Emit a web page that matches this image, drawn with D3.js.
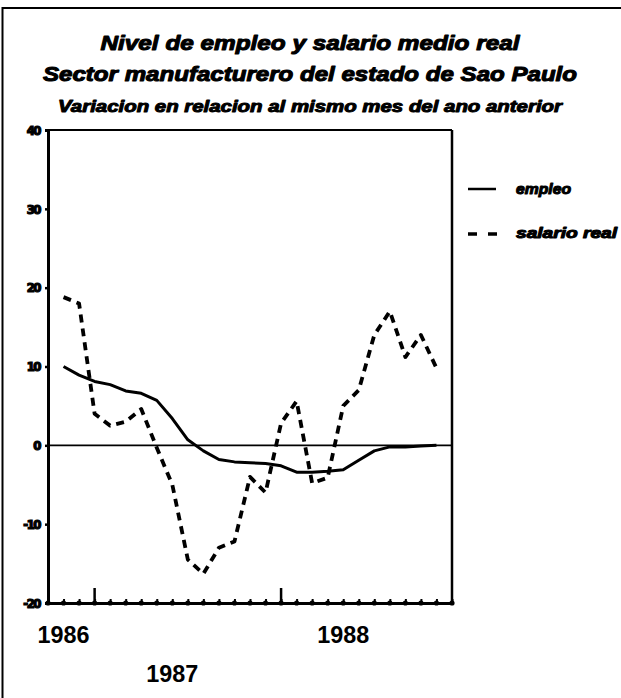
<!DOCTYPE html>
<html>
<head>
<meta charset="utf-8">
<script src="https://cdn.jsdelivr.net/npm/d3@7/dist/d3.min.js"></script>
<style>
  html, body { margin: 0; padding: 0; background: #fff; }
  svg { display: block; }
</style>
</head>
<body>
<svg id="chart" width="621" height="698"></svg>
<script>
// ---- data ----
const months = [1,2,3,4,5,6,7,8,9,10,11,12,13,14,15,16,17,18,19,20,21,22,23,24,25];
const empleo = [10.0, 8.9, 8.1, 7.7, 6.9, 6.6, 5.7, 3.4, 0.7, -0.7, -1.8, -2.1, -2.2, -2.3, -2.6, -3.4, -3.4, -3.3, -3.1, -1.9, -0.7, -0.2, -0.2, -0.1, 0.0];
const salario = [18.8, 18.0, 4.0, 2.5, 3.0, 4.6, -0.3, -5.0, -14.5, -16.3, -13.0, -12.2, -4.0, -6.0, 2.8, 5.6, -4.8, -4.1, 5.0, 7.0, 14.0, 17.0, 11.2, 14.0, 9.8];
const yTicks = [-20, -10, 0, 10, 20, 30, 40];
const xLabels = ["1986", "1987", "1988"];
const xLabelMonths = [1, 8, 19];
const majorTickMonths = [3, 15];
const titleLines = [
  "Nivel de empleo y salario medio real",
  "Sector manufacturero del estado de Sao Paulo",
  "Variacion en relacion al mismo mes del ano anterior"
];
const seriesNames = ["empleo", "salario real"];

// ---- layout ----
const svg = d3.select("#chart");
const L = 48, R = 452, T = 130, B = 603;
const x = d3.scaleLinear().domain([0, 26]).range([L, R]);
const y = d3.scaleLinear().domain([-20, 40]).range([B, T]);

// outer frame (top and left only)
svg.append("line").attr("x1", 2).attr("x2", 621).attr("y1", 8).attr("y2", 8)
  .attr("stroke", "#000").attr("stroke-width", 2);
svg.append("line").attr("x1", 2.5).attr("x2", 2.5).attr("y1", 7).attr("y2", 698)
  .attr("stroke", "#000").attr("stroke-width", 2);

// titles
const titleFont = "'Liberation Sans', Arial, sans-serif";
const tSpec = [
  {y: 50, size: 21, w: 419, sw: 1.1},
  {y: 81, size: 21, w: 534, sw: 1.1},
  {y: 112, size: 16, w: 504, sw: 1.0}
];
titleLines.forEach((t, i) => {
  svg.append("text")
    .attr("x", 310).attr("y", tSpec[i].y)
    .attr("text-anchor", "middle")
    .attr("font-family", titleFont)
    .attr("font-weight", "bold")
    .attr("font-style", "italic")
    .attr("font-size", tSpec[i].size)
    .attr("textLength", tSpec[i].w)
    .attr("lengthAdjust", "spacingAndGlyphs")
    .attr("stroke", "#000").attr("stroke-width", tSpec[i].sw)
    .attr("stroke-linejoin", "round")
    .text(t);
});

// plot border: top and right
svg.append("line").attr("x1", L).attr("x2", R).attr("y1", T).attr("y2", T)
  .attr("stroke", "#000").attr("stroke-width", 2);
svg.append("line").attr("x1", R).attr("x2", R).attr("y1", T).attr("y2", B)
  .attr("stroke", "#000").attr("stroke-width", 2.5);

// zero line
svg.append("line").attr("x1", L).attr("x2", R).attr("y1", y(0)).attr("y2", y(0))
  .attr("stroke", "#000").attr("stroke-width", 1.6);

// y axis
const yAxis = d3.axisLeft(y).tickValues(yTicks).tickSize(3).tickPadding(5)
  .tickFormat(d => String(d));
const gy = svg.append("g").attr("transform", `translate(${L},0)`).call(yAxis);
gy.select(".domain").attr("stroke", "#000").attr("stroke-width", 3);
gy.selectAll(".tick line").attr("stroke", "#000").attr("stroke-width", 2.5);
gy.selectAll(".tick text")
  .attr("font-family", "'DejaVu Sans Condensed', 'DejaVu Sans', sans-serif")
  .attr("font-weight", "bold").attr("font-size", 13).attr("fill", "#000")
  .attr("stroke", "#000").attr("stroke-width", 1.2)
  .attr("letter-spacing", -1.5);

// x axis (monthly ticks)
const allMonths = d3.range(0, 27);
const xAxis = d3.axisBottom(x).tickValues(allMonths).tickSizeInner(-4).tickSizeOuter(0)
  .tickFormat("");
const gx = svg.append("g").attr("transform", `translate(0,${B})`).call(xAxis);
gx.select(".domain").attr("stroke", "#000").attr("stroke-width", 3);
gx.selectAll(".tick line").attr("stroke", "#000").attr("stroke-width", 2);
gx.selectAll(".dot").data(allMonths).enter().append("circle")
  .attr("cx", d => x(d)).attr("cy", 0).attr("r", 2.6).attr("fill", "#000");
gx.selectAll(".major").data(majorTickMonths).enter().append("line")
  .attr("x1", d => x(d)).attr("x2", d => x(d)).attr("y1", 0).attr("y2", -15)
  .attr("stroke", "#000").attr("stroke-width", 2.5);

// x labels (staggered)
const xlabY = [643, 682, 643];
svg.selectAll(".xlab").data(xLabels).enter().append("text")
  .attr("x", (d, i) => x(xLabelMonths[i])).attr("y", (d, i) => xlabY[i])
  .attr("text-anchor", "middle")
  .attr("font-family", "'Liberation Sans', Arial, sans-serif")
  .attr("font-weight", "bold").attr("font-size", 24)
  .attr("fill", "#000")
  .attr("textLength", 52).attr("lengthAdjust", "spacingAndGlyphs")
  .text(d => d);

// series
const line = d3.line().x((d, i) => x(months[i])).y(d => y(d)).curve(d3.curveLinear);
svg.append("path").datum(empleo).attr("d", line)
  .attr("fill", "none").attr("stroke", "#000").attr("stroke-width", 3)
  .attr("stroke-linejoin", "round");
svg.append("path").datum(salario).attr("d", line)
  .attr("fill", "none").attr("stroke", "#000").attr("stroke-width", 3.8)
  .attr("stroke-dasharray", "8,6").attr("stroke-linejoin", "round");

// legend
svg.append("line").attr("x1", 468).attr("x2", 496).attr("y1", 189).attr("y2", 189)
  .attr("stroke", "#000").attr("stroke-width", 2.5);
svg.append("line").attr("x1", 468).attr("x2", 497).attr("y1", 234).attr("y2", 234)
  .attr("stroke", "#000").attr("stroke-width", 3.5).attr("stroke-dasharray", "9,11");
const legY = [194, 238];
const legW = [55, 101];
seriesNames.forEach((n, i) => {
  svg.append("text").attr("x", 516).attr("y", legY[i])
    .attr("font-family", titleFont).attr("font-weight", "bold").attr("font-style", "italic")
    .attr("font-size", 15).attr("fill", "#000")
    .attr("stroke", "#000").attr("stroke-width", 1.1)
    .attr("stroke-linejoin", "round")
    .attr("textLength", legW[i]).attr("lengthAdjust", "spacingAndGlyphs")
    .text(n);
});
</script>
</body>
</html>
